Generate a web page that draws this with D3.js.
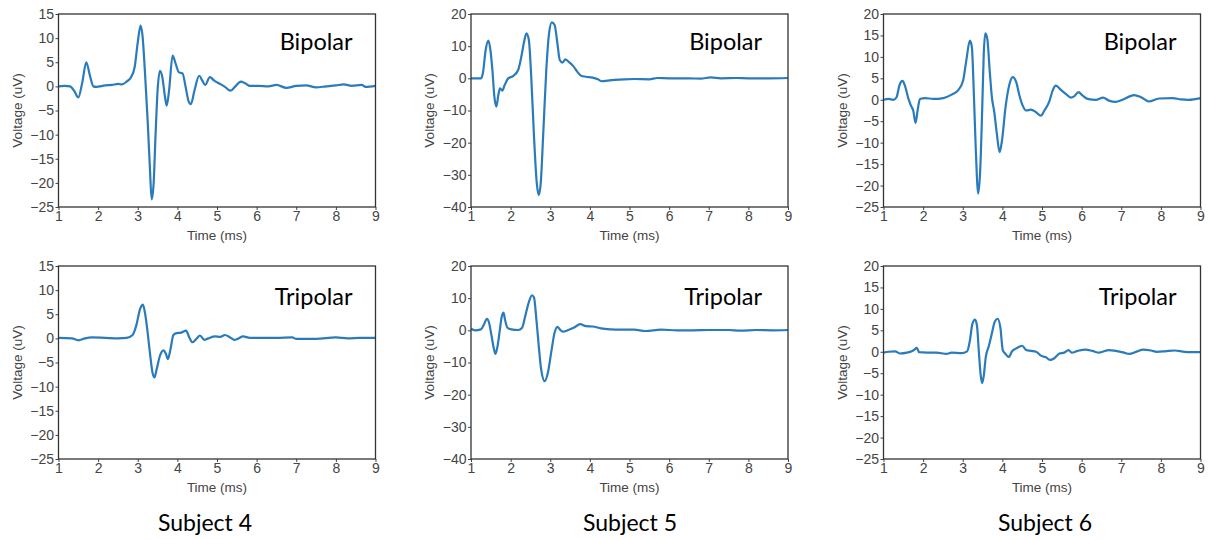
<!DOCTYPE html>
<html>
<head>
<meta charset="utf-8">
<script src="https://cdn.jsdelivr.net/npm/d3@7"></script>
<style>
  body { margin: 0; background: #fff; }
  svg { display: block; }
</style>
</head>
<body>
<div id="chart"></div>
<script>
// ticks
const timeTicks = [1, 2, 3, 4, 5, 6, 7, 8, 9];
const ticksA = [15, 10, 5, 0, -5, -10, -15, -20, -25];
const ticksB = [20, 10, 0, -10, -20, -30, -40];
const ticksC = [20, 15, 10, 5, 0, -5, -10, -15, -20, -25];

const subjects = ["Subject 4", "Subject 5", "Subject 6"];
const rows = ["Bipolar", "Tripolar"];

// [time (ms), voltage (uV)]
const s4Bipolar = [[1,0],[1.15,0.1],[1.29,0],[1.4,-1],[1.5,-2.3],[1.6,0.8],[1.7,5],[1.8,2],[1.88,0],[1.95,-0.1],[2.18,0.2],[2.35,0.3],[2.51,0.5],[2.6,0.4],[2.72,1],[2.83,1.9],[2.92,3.9],[3,9.1],[3.07,12.6],[3.12,10.5],[3.18,3.2],[3.25,-7.1],[3.31,-17.5],[3.35,-23.4],[3.4,-20.2],[3.45,-9.9],[3.5,-0.9],[3.56,3.2],[3.62,1.9],[3.69,-2.3],[3.73,-4],[3.79,-0.9],[3.88,6.4],[3.96,4.6],[4.04,2.9],[4.13,2.7],[4.21,-0.2],[4.28,-3],[4.34,-3.7],[4.43,-0.9],[4.55,2.2],[4.63,1.2],[4.7,0.3],[4.82,1.9],[4.93,1.2],[5.08,0.5],[5.2,-0.1],[5.34,-0.9],[5.45,-0.1],[5.6,1],[5.72,0.6],[5.83,0.1],[6.04,0.1],[6.3,0],[6.5,0.3],[6.75,-0.3],[7,0.1],[7.25,0.2],[7.5,-0.2],[7.75,0],[8,0.2],[8.2,0.4],[8.4,0.1],[8.65,0.3],[8.75,-0.1],[9,0.1]];
const s4Tripolar = [[1,0.1],[1.34,0],[1.5,-0.4],[1.67,0],[1.84,0.2],[2.18,0.1],[2.51,0],[2.72,0.1],[2.87,0.7],[2.96,2.6],[3.06,6.1],[3.13,7],[3.18,5.4],[3.25,1.2],[3.31,-3.2],[3.37,-7],[3.42,-8.1],[3.48,-6.3],[3.56,-3.6],[3.65,-2.5],[3.71,-3.2],[3.76,-4.3],[3.82,-2.5],[3.9,0.7],[3.98,1.1],[4.09,1.2],[4.22,1.6],[4.3,0.2],[4.38,-0.8],[4.49,0],[4.57,0.6],[4.68,-0.3],[4.78,0],[4.95,0.4],[5.08,0.3],[5.2,0.7],[5.33,0.2],[5.44,-0.3],[5.52,-0.1],[5.66,0.4],[5.83,0.1],[6.04,0.1],[6.5,0.1],[6.9,0.2],[7,-0.1],[7.5,-0.1],[8,0.2],[8.3,0],[8.6,0.1],[9,0.1]];
const s5Bipolar = [[1,0],[1.25,0],[1.3,1.6],[1.37,8.8],[1.44,11.7],[1.49,8.8],[1.54,2.6],[1.59,-5.7],[1.64,-8.8],[1.69,-5.2],[1.73,-3.1],[1.79,-3.8],[1.85,-2.1],[1.94,0],[2.06,0.7],[2.19,2.6],[2.27,6.7],[2.34,11.4],[2.4,14],[2.46,11.9],[2.52,0.5],[2.59,-18.1],[2.66,-32.6],[2.71,-36.3],[2.76,-32.6],[2.82,-18.1],[2.9,2.6],[2.97,14],[3.04,17.4],[3.11,16.6],[3.18,10.9],[3.24,5.7],[3.31,4.9],[3.38,5.9],[3.46,5.2],[3.58,3.8],[3.68,2.1],[3.78,0.8],[3.9,0.5],[4.07,0.2],[4.2,-0.3],[4.3,-0.9],[4.45,-0.7],[4.62,-0.5],[4.87,-0.3],[5.12,-0.2],[5.5,-0.3],[5.7,0.1],[6,0],[6.5,0],[6.8,-0.1],[7.05,0.3],[7.3,0],[7.7,0.1],[8,0],[8.5,0],[9,0.1]];
const s5Tripolar = [[1,0.5],[1.1,0],[1.25,0.3],[1.33,1.9],[1.4,3.6],[1.45,2.6],[1.52,-1.8],[1.58,-5.9],[1.62,-7.3],[1.67,-4.9],[1.73,0.3],[1.77,3.9],[1.82,5.5],[1.86,3.2],[1.92,0.8],[2.02,0.3],[2.19,0.1],[2.29,0.8],[2.37,4.5],[2.46,8.8],[2.54,10.9],[2.59,10.2],[2.65,3.4],[2.71,-4.9],[2.77,-12.1],[2.86,-15.8],[2.94,-13.2],[3.03,-6.4],[3.11,-0.7],[3.18,1.1],[3.24,0.3],[3.32,-0.4],[3.44,0],[3.59,0.8],[3.76,1.9],[3.9,1.3],[4.07,1.2],[4.28,0.6],[4.53,0.3],[4.78,0.2],[5.12,0.2],[5.4,-0.2],[5.8,0.2],[6.2,0],[6.6,0],[7,0.1],[7.5,0.1],[7.8,-0.1],[8.2,0.1],[8.6,0],[9,0.1]];
const s6Bipolar = [[1,0],[1.13,0.2],[1.25,0],[1.33,0.6],[1.4,3.3],[1.48,4.4],[1.54,3.3],[1.63,0.2],[1.69,-1.3],[1.75,-2.5],[1.81,-5.4],[1.86,-2.5],[1.92,0.2],[2.05,0.4],[2.26,0.2],[2.51,0.4],[2.72,1.2],[2.88,2.2],[3.01,4.5],[3.09,9.2],[3.18,13.8],[3.23,12.3],[3.28,1.4],[3.33,-11.8],[3.39,-21.9],[3.44,-16.5],[3.49,-2.5],[3.53,10.7],[3.57,15.5],[3.62,14.2],[3.68,6.8],[3.74,0.2],[3.79,-2.5],[3.86,-7.9],[3.93,-12.2],[3.99,-9.5],[4.08,-1.7],[4.18,3.7],[4.26,5.3],[4.35,4.1],[4.43,1],[4.51,-1.3],[4.6,-2.5],[4.72,-2.3],[4.85,-2.9],[4.97,-3.7],[5.06,-2.5],[5.18,-0.5],[5.27,2.2],[5.35,3.3],[5.48,2.3],[5.6,1.4],[5.73,0.5],[5.81,0.8],[5.92,1.8],[6.02,1],[6.15,0.2],[6.36,0],[6.54,0.5],[6.69,-0.2],[6.86,-0.5],[7.03,0],[7.32,1.1],[7.5,0.6],[7.7,-0.4],[7.95,0.3],[8.3,0.4],[8.5,0.1],[8.7,0],[9,0.4]];
const s6Tripolar = [[1,-0.2],[1.13,0],[1.29,0.1],[1.42,-0.4],[1.59,-0.2],[1.71,0.1],[1.78,0.5],[1.84,0.9],[1.9,-0.1],[2.09,-0.2],[2.34,-0.2],[2.59,-0.5],[2.72,-0.2],[2.97,-0.3],[3.11,0.1],[3.18,2.6],[3.24,6.4],[3.31,7.5],[3.36,6],[3.41,-0.5],[3.45,-5.2],[3.49,-7.3],[3.53,-5.6],[3.58,-1.3],[3.66,1.4],[3.74,4.5],[3.8,6.8],[3.88,7.7],[3.95,5.6],[4.01,0.4],[4.08,-0.5],[4.16,-1.2],[4.25,0.2],[4.35,0.8],[4.5,1.4],[4.6,0.4],[4.72,0.2],[4.85,0],[4.97,-0.9],[5.1,-1.3],[5.2,-1.9],[5.31,-1.5],[5.44,-0.4],[5.56,-0.2],[5.67,0.4],[5.75,-0.2],[5.9,0.2],[6.1,0.5],[6.27,0.2],[6.44,-0.2],[6.69,0.4],[6.86,0.2],[7.07,-0.2],[7.2,-0.5],[7.4,0.1],[7.55,0.5],[7.75,0.3],[7.9,0],[8.1,0.1],[8.35,0.3],[8.6,0],[9,-0.1]];

const W = 1209, H = 540;
const lefts = [58.5, 471, 883.5];
const tops = [14, 266];
const pw = 317, ph = 193;
const labelX = [294, 291, 293];
const labelY = [36, 39];
const subjectX = [205, 630, 1045];

const panels = [
  { col: 0, row: 0, data: s4Bipolar, ticks: ticksA },
  { col: 1, row: 0, data: s5Bipolar, ticks: ticksB },
  { col: 2, row: 0, data: s6Bipolar, ticks: ticksC },
  { col: 0, row: 1, data: s4Tripolar, ticks: ticksA },
  { col: 1, row: 1, data: s5Tripolar, ticks: ticksB },
  { col: 2, row: 1, data: s6Tripolar, ticks: ticksC }
];

const svg = d3.select("#chart").append("svg")
  .attr("width", W)
  .attr("height", H)
  .style("font-family", "'Liberation Sans', Arial, sans-serif");

panels.forEach(function(p) {
  const g = svg.append("g")
    .attr("transform", "translate(" + lefts[p.col] + "," + tops[p.row] + ")");

  const x = d3.scaleLinear().domain([1, 9]).range([0, pw]);
  const y = d3.scaleLinear().domain([d3.min(p.ticks), d3.max(p.ticks)]).range([ph, 0]);

  const line = d3.line()
    .x(function(d) { return x(d[0]); })
    .y(function(d) { return y(d[1]); })
    .curve(d3.curveMonotoneX);

  g.append("path")
    .datum(p.data)
    .attr("fill", "none")
    .attr("stroke", "#2a7bbb")
    .attr("stroke-width", 2.2)
    .attr("stroke-linejoin", "round")
    .attr("d", line);

  const xAxis = g.append("g")
    .attr("transform", "translate(0," + ph + ")")
    .call(d3.axisBottom(x).tickValues(timeTicks).tickFormat(d3.format("d")).tickSize(3).tickSizeOuter(0).tickPadding(1.5));

  const yAxis = g.append("g")
    .call(d3.axisLeft(y).tickValues(p.ticks).tickSize(3).tickSizeOuter(0).tickPadding(1.5));

  [xAxis, yAxis].forEach(function(a) {
    a.select(".domain").remove();
    a.selectAll("line").attr("stroke", "#444");
    a.selectAll("text").attr("fill", "#444").style("font-size", "14px").style("font-family", "'Liberation Sans', Arial, sans-serif");
  });

  // frame
  g.append("rect")
    .attr("width", pw)
    .attr("height", ph)
    .attr("fill", "none")
    .attr("stroke", "#333")
    .attr("stroke-width", 1.3);

  g.append("text")
    .attr("x", pw / 2)
    .attr("y", ph + 33)
    .attr("text-anchor", "middle")
    .attr("fill", "#444")
    .style("font-size", "13.5px")
    .text("Time (ms)");

  g.append("text")
    .attr("transform", "translate(-37," + (ph / 2) + ") rotate(-90)")
    .attr("text-anchor", "middle")
    .attr("fill", "#444")
    .style("font-size", "13.5px")
    .text("Voltage (uV)");

  g.append("text")
    .attr("x", labelX[p.col])
    .attr("y", labelY[p.row])
    .attr("text-anchor", "end")
    .attr("fill", "#000")
    .style("font-family", "Lato, 'Open Sans', sans-serif")
    .style("font-size", "23.5px")
    .text(rows[p.row]);
});

svg.selectAll(".subject")
  .data(subjects)
  .enter()
  .append("text")
  .attr("class", "subject")
  .attr("x", function(d, i) { return subjectX[i]; })
  .attr("y", 531)
  .attr("text-anchor", "middle")
  .attr("fill", "#000")
  .style("font-family", "Lato, 'Open Sans', sans-serif")
  .style("font-size", "23px")
  .text(function(d) { return d; });
</script>
</body>
</html>
